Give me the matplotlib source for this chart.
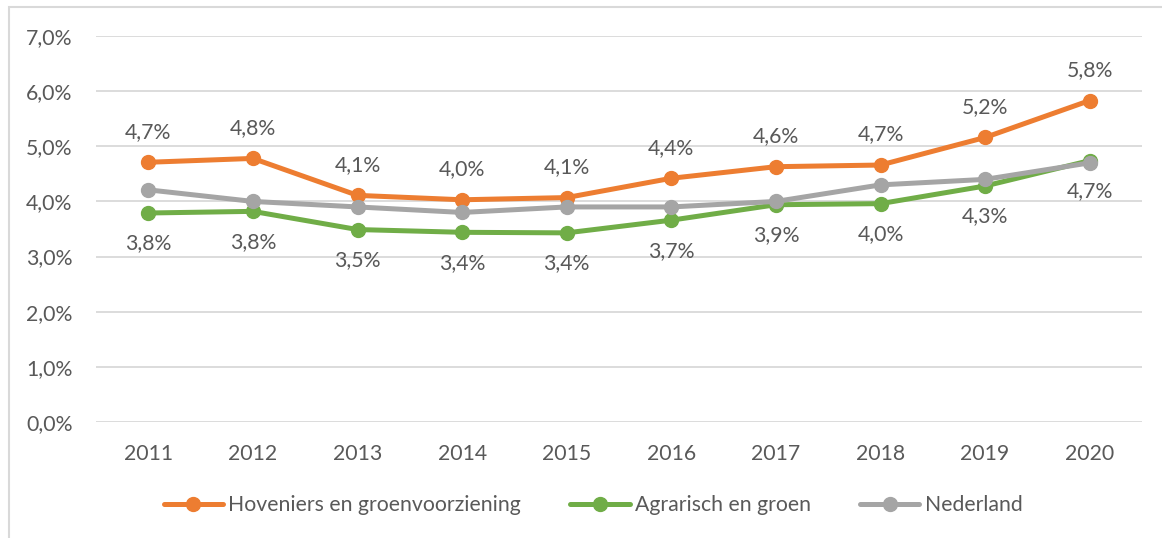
import matplotlib
matplotlib.use("Agg")
import matplotlib.pyplot as plt
from matplotlib.patches import Rectangle

years = ["2011", "2012", "2013", "2014", "2015", "2016", "2017", "2018", "2019", "2020"]
hoveniers = [4.71, 4.78, 4.11, 4.03, 4.07, 4.42, 4.63, 4.66, 5.16, 5.83]
agrarisch = [3.79, 3.82, 3.49, 3.44, 3.43, 3.66, 3.94, 3.96, 4.28, 4.74]
nederland = [4.21, 4.00, 3.90, 3.80, 3.90, 3.90, 4.00, 4.30, 4.40, 4.70]
series_names = ["Hoveniers en groenvoorziening", "Agrarisch en groen", "Nederland"]
yticks = [0, 1, 2, 3, 4, 5, 6, 7]

plt.rcParams['font.family'] = ['Lato', 'DejaVu Sans']
TXT = '#595959'
FS = 15.3

W, H = 1162, 538
fig = plt.figure(figsize=(W / 100, H / 100), dpi=100)
ax = fig.add_axes([96 / W, 1 - 422 / H, (1142 - 96) / W, (422 - 36) / H])

x = list(range(len(years)))
colors = ['#ED7D31', '#70AD47', '#A5A5A5']
lines = []
for vals, col, name in zip([hoveniers, agrarisch, nederland], colors, series_names):
    l, = ax.plot(x, vals, color=col, lw=3.6, marker='o', ms=10, label=name,
                 solid_capstyle='round', solid_joinstyle='round', zorder=3)
    lines.append(l)

def fmt(v):
    return f"{v:.1f}".replace('.', ',') + '%'

for xi, v in zip(x, hoveniers):
    ax.annotate(fmt(v), (xi, v), xytext=(0, 22), textcoords='offset points',
                ha='center', va='center', fontsize=FS, color=TXT)
for xi, v in zip(x, agrarisch):
    ax.annotate(fmt(v), (xi, v), xytext=(0, -22), textcoords='offset points',
                ha='center', va='center', fontsize=FS, color=TXT)

ax.set_xlim(-0.5, len(years) - 0.5)
ax.set_ylim(0, 7)
ax.set_yticks(yticks)
ax.set_yticklabels([f"{t},0%" for t in yticks])
ax.set_xticks(x)
ax.set_xticklabels(years)
ax.tick_params(axis='both', length=0, labelsize=FS, labelcolor=TXT)
ax.tick_params(axis='y', pad=17)
ax.tick_params(axis='x', pad=16)
ax.grid(axis='y', color='#D9D9D9', lw=1.3)
ax.set_axisbelow(True)
for s in ax.spines.values():
    s.set_visible(False)

leg = fig.legend(handles=lines, loc='center', bbox_to_anchor=(593 / W, 1 - 505 / H),
                 ncol=3, frameon=False, fontsize=FS, labelcolor=TXT,
                 handlelength=2.8, handletextpad=0.25, columnspacing=2.3)

fig.patches.append(Rectangle((9 / W, -0.05), 1.2, 1 - 7 / H + 0.05, transform=fig.transFigure,
                             fill=False, edgecolor='#D9D9D9', lw=1.5))

fig.savefig("out.png", dpi=100)
